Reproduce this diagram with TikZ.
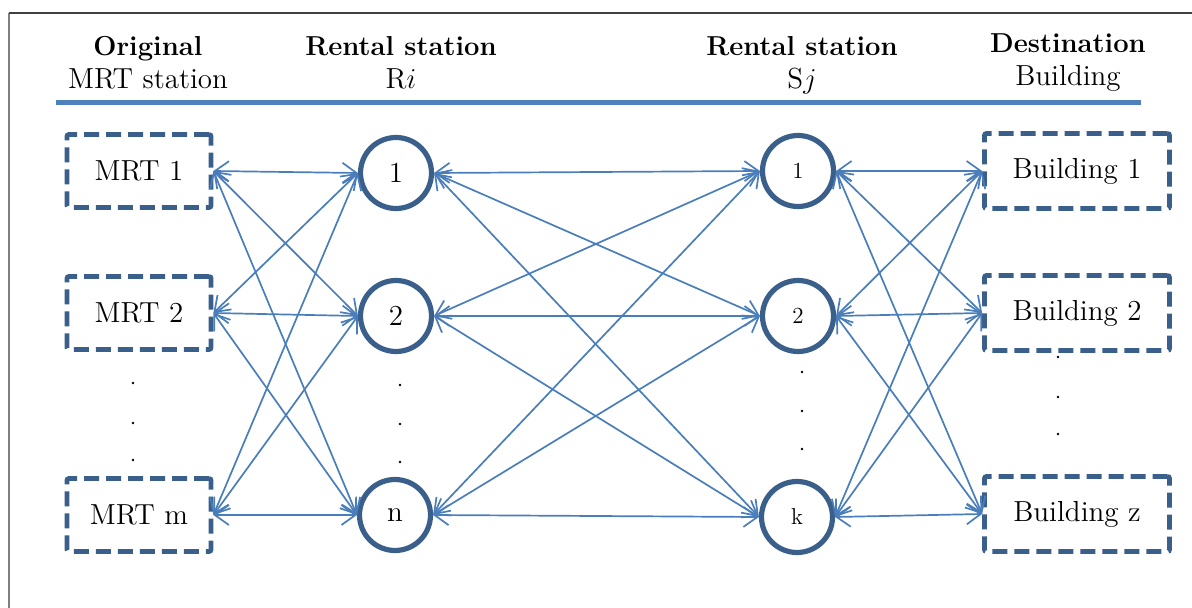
\documentclass[tikz,border=0pt]{standalone}
\usetikzlibrary{arrows.meta}
\definecolor{boxblue}{HTML}{3A5F8B}
\definecolor{linkblue}{HTML}{4A7EBB}
\definecolor{ruleblue}{HTML}{4F81BD}
\definecolor{framegray}{HTML}{7F7F7F}
\begin{document}
\begin{tikzpicture}[x=0.5pt,y=-0.5pt,
  place/.style={draw=boxblue, line width=2.4pt, dash pattern=on 7.5pt off 3.5pt,
    rounded corners=1pt, minimum width=72pt, minimum height=36.5pt, inner sep=0pt,
    font=\fontsize{14.5}{17}\selectfont},
  bldg/.style={place, minimum width=92.5pt, minimum height=37.5pt},
  station/.style={circle, draw=boxblue, line width=2.6pt, minimum size=35.5pt,
    inner sep=0pt, font=\fontsize{14.5}{17}\selectfont},
  smallstation/.style={station, font=\fontsize{11.5}{13}\selectfont},
  link/.style={draw=linkblue, line width=0.85pt,
    {Straight Barb[length=7pt,width=10pt]}-{Straight Barb[length=7pt,width=10pt]}},
  headb/.style={anchor=base, font=\fontsize{13.7}{16}\selectfont\bfseries},
  headr/.style={anchor=base, font=\fontsize{14.5}{16}\selectfont}]

% page extent and frame
\useasboundingbox (0,0) rectangle (1192,608);
\draw[framegray, line width=1pt] (9,608) -- (9,13);
\draw[black!75, line width=0.8pt] (9,13) -- (1192,13);

% column headings
\node[headb] (t1) at (148,56) {Original};
\node[headr] (s1) at (148,89) {MRT station};
\node[headb] (t2) at (401,56) {Rental station};
\node[headr] (s2) at (401,89) {R$i$};
\node[headb] (t3) at (802,56) {Rental station};
\node[headr] (s3) at (802,89) {S$j$};
\node[headb] (t4) at (1068,53) {Destination};
\node[headr] (s4) at (1068,86) {Building};
\draw[ruleblue, line width=2.5pt] (56,103) -- (1141,103);

% origin MRT stations
\node[place] (m1) at (139,171) {MRT 1};
\node[place] (m2) at (139,313) {MRT 2};
\node[place] (mm) at (139,515) {MRT m};

% rental stations R_i
\node[station] (r1) at (396,173) {1};
\node[station] (r2) at (396,316) {2};
\node[station] (rn) at (395,515) {n};

% rental stations S_j
\node[smallstation] (q1) at (798,171) {1};
\node[smallstation] (q2) at (798,316) {2};
\node[smallstation] (qk) at (797,517) {k};

% destination buildings
\node[bldg] (b1) at (1077,171) {Building 1};
\node[bldg] (b2) at (1077,313) {Building 2};
\node[bldg] (bz) at (1077,514) {Building z};

% ellipsis dots
\foreach \y in {383,423,460} \fill (133,\y) circle (1.4);
\foreach \y in {385,424,462} \fill (400,\y) circle (1.4);
\foreach \y in {372,411,449} \fill (802,\y) circle (1.4);
\foreach \y in {357,397,434} \fill (1058,\y) circle (1.4);

% all two-way links between neighbouring columns
\foreach \a in {m1,m2,mm}
  \foreach \b in {r1,r2,rn}
    \draw[link] (\a.east) -- (\b.west);
\foreach \a in {r1,r2,rn}
  \foreach \b in {q1,q2,qk}
    \draw[link] (\a.east) -- (\b.west);
\foreach \a in {q1,q2,qk}
  \foreach \b in {b1,b2,bz}
    \draw[link] (\a.east) -- (\b.west);
\end{tikzpicture}
\end{document}
